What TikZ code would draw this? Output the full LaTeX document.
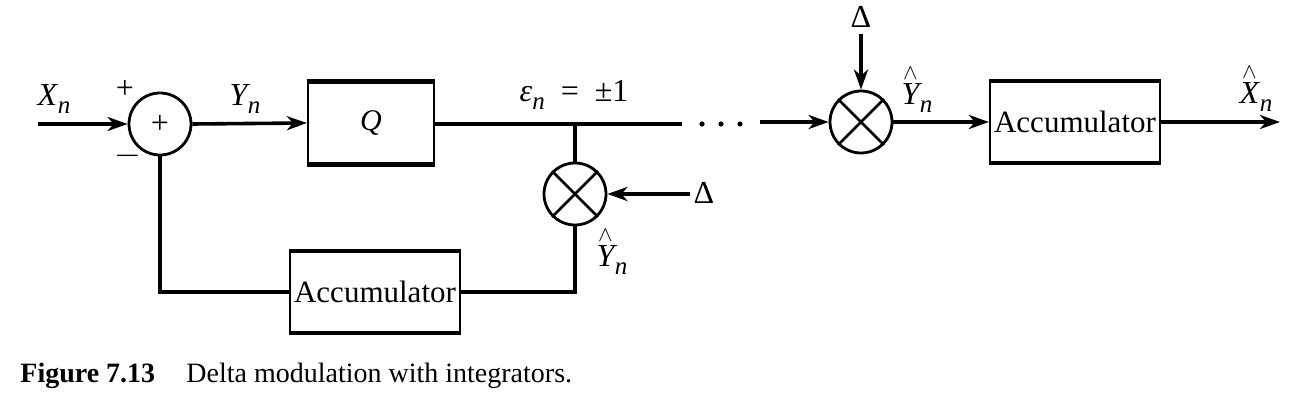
\documentclass[tikz,border=0pt]{standalone}
\usepackage{fontspec}
\setmainfont{Liberation Serif}
\usetikzlibrary{arrows.meta}
\newcommand{\lbl}[2]{{\itshape #1}\kern.3pt\raisebox{-.5ex}{\fontsize{12.5}{12}\selectfont\itshape #2}}
\newcommand{\hlbl}[2]{\ensuremath{\stackrel{\wedge}{\mbox{\itshape #1}}}\kern.3pt\raisebox{-.5ex}{\fontsize{12.5}{12}\selectfont\itshape #2}}
\tikzset{
  wire/.style={line width=1.8pt},
  arr/.style={wire,-{Stealth[length=10pt,width=7pt,inset=3pt]}},
  junc/.style={circle,draw,line width=1.4pt,minimum size=31pt,inner sep=0pt},
  blk/.style={draw,line width=1.1pt,inner sep=0pt},
  lab/.style={font=\fontsize{16}{18}\selectfont,inner sep=1pt},
  captext/.style={font=\fontsize{14}{16}\selectfont,inner sep=0pt,anchor=base west},
  dot/.style={circle,fill,inner sep=0pt,minimum size=2.6pt}
}
\begin{document}
\begin{tikzpicture}[x=0.5pt,y=-0.5pt]
\useasboundingbox (0,0) rectangle (1306,406);
% blocks
\node[junc] (sum) at (160,124) {};
\node[lab] at (sum.center) {+};
\node[blk,minimum width=63pt,minimum height=40.5pt,font=\fontsize{15}{15}\selectfont] (q) at (371,123) {\itshape Q};
\node[junc] (m1) at (575,194) {};
\node[blk,minimum width=85pt,minimum height=40pt,font=\fontsize{15.5}{16}\selectfont] (acc1) at (375,292) {Accumulator};
\node[junc] (m2) at (861,122) {};
\node[blk,minimum width=85pt,minimum height=40pt,font=\fontsize{15.5}{16}\selectfont] (acc2) at (1075,122) {Accumulator};
\foreach \b in {q,acc1,acc2}{
  \draw[line width=2pt] (\b.north west)--(\b.north east) (\b.south west)--(\b.south east);}
\foreach \m in {m1,m2}{
  \draw[line width=1.4pt] (\m.north west)--(\m.south east) (\m.north east)--(\m.south west);}
% coordinates
\coordinate (xin) at (38,124);
\coordinate (j) at (575,124);
\coordinate (lend) at (682,124);
\coordinate (rstart) at (760,122);
\coordinate (dl) at (690,194);
\coordinate (dt) at (861,34);
\coordinate (xout) at (1280,122);
\coordinate (fbl) at (160,292);
% connectors
\draw[arr] (xin) -- (sum.west);
\draw[arr] (sum.east) -- (q.west);
\draw[wire] (q.east |- j) -- (lend);
\draw[wire] (j) -- (m1.north);
\draw[arr] (dl) -- (m1.east);
\draw[wire] (m1.south) |- (acc1.east);
\draw[wire] (acc1.west) -- (fbl) -- (sum.south);
\draw[arr] (rstart) -- (m2.west);
\draw[arr] (dt) -- (m2.north);
\draw[arr] (m2.east) -- (acc2.west);
\draw[arr] (acc2.east) -- (xout);
% dots
\node[dot] (d1) at (702,124) {};
\node[dot] (d2) at (721,124) {};
\node[dot] (d3) at (740,124) {};
% labels
\node[lab] at (54,99) {\lbl{X}{n}};
\node[lab] at (125,89) {+};
\node[lab] at (128,156) {$-$};
\node[lab] at (245,99) {\lbl{Y}{n}};
\node[lab] at (574,95) {{\itshape ε}\raisebox{-.5ex}{\fontsize{12.5}{12}\selectfont\itshape n}\enspace=\enspace±1};
\node[lab] at (704,193) {Δ};
\node[lab] at (612,251) {\hlbl{Y}{n}};
\node[lab] at (861,17) {Δ};
\node[lab] at (917,89) {\hlbl{Y}{n}};
\node[lab] at (1256,88) {\hlbl{X}{n}};
% caption
\node[captext] at (20,382) {\bfseries Figure 7.13};
\node[captext] at (186,382) {Delta modulation with integrators.};
\end{tikzpicture}
\end{document}
